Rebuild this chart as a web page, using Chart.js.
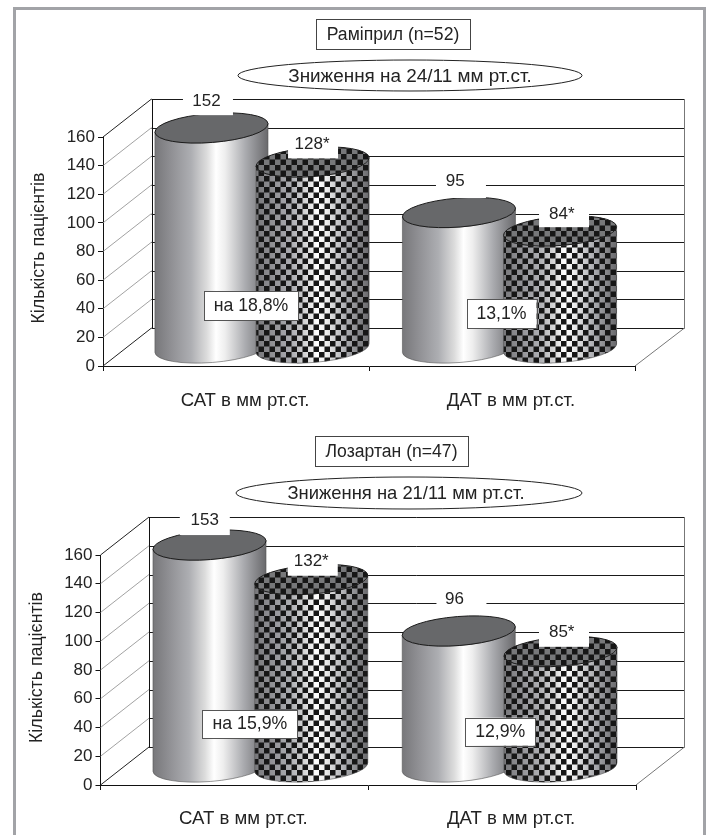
<!DOCTYPE html>
<html lang="uk">
<head>
<meta charset="utf-8">
<title>Раміприл / Лозартан</title>
<script src="https://cdn.jsdelivr.net/npm/chart.js@4"></script>
<style>
    html, body { margin: 0; padding: 0; background: #fff; overflow: hidden; }
    #page { position: relative; width: 708px; height: 835px; }
    #frame {
        position: absolute; left: 13px; top: 7px; width: 687px; height: 840px;
        border: 3px solid #a2a3a7; box-sizing: content-box;
    }
    canvas { position: absolute; left: 0; }
    #ramiprilChart { top: 0; }
    #losartanChart { top: 418px; }
</style>
</head>
<body>
<div id="page">
    <div id="frame"></div>
    <canvas id="ramiprilChart" width="708" height="418"></canvas>
    <canvas id="losartanChart" width="708" height="417"></canvas>
</div>
<script>
const categories = ['САТ в мм рт.ст.', 'ДАТ в мм рт.ст.'];
const yAxisTitle = 'Кількість пацієнтів';

const ramiprilBaseline = [152, 95];
const ramiprilTreated = [128, 84];
const ramiprilChange = ['на 18,8%', '13,1%'];

const losartanBaseline = [153, 96];
const losartanTreated = [132, 85];
const losartanChange = ['на 15,9%', '12,9%'];

const FONT = '"Liberation Sans", Arial, sans-serif';
const INK = '#232323';

// Оформлення циліндрів і підписів
const DEPTH_X = 48.5;
const DEPTH_Y = 38;
const BASE_LIFT = 18;     // центр основи лежить посередині глибини підлоги
const LABEL_LIFT = 20;
const RADIUS_Y = 14.5;
const TILT = -4.5 * Math.PI / 180;
const GROUP_SHIFT = [26, 7.5];

function checkerPattern(ctx) {
    const cell = 5.5;
    const tile = document.createElement('canvas');
    tile.width = tile.height = 11;
    const t = tile.getContext('2d');
    t.fillStyle = '#161616';
    t.fillRect(0, 0, cell, cell);
    t.fillRect(cell, cell, cell, cell);
    return ctx.createPattern(tile, 'repeat');
}

function bodyGradient(ctx, left, right) {
    const g = ctx.createLinearGradient(left, 0, right, 0);
    g.addColorStop(0, '#77777a');
    g.addColorStop(0.14, '#8f8f93');
    g.addColorStop(0.32, '#adaeb2');
    g.addColorStop(0.46, '#dcdcdc');
    g.addColorStop(0.54, '#ffffff');
    g.addColorStop(0.62, '#eeeeee');
    g.addColorStop(0.8, '#aaabaf');
    g.addColorStop(1, '#68686b');
    return g;
}

function drawCylinder(ctx, cx, topY, baseY, rx, checkered) {
    const ex = rx * Math.cos(TILT);
    const ey = rx * Math.sin(TILT);
    const pattern = checkered ? checkerPattern(ctx) : null;

    ctx.beginPath();
    ctx.moveTo(cx - ex, topY - ey);
    ctx.lineTo(cx - ex, baseY - ey);
    ctx.ellipse(cx, baseY, rx, RADIUS_Y, TILT, Math.PI, 0, true);
    ctx.lineTo(cx + ex, topY + ey);
    ctx.ellipse(cx, topY, rx, RADIUS_Y, TILT, 0, Math.PI, false);
    ctx.closePath();
    ctx.fillStyle = bodyGradient(ctx, cx - rx, cx + rx);
    ctx.fill();
    if (pattern) {
        ctx.fillStyle = pattern;
        ctx.fill();
    }
    ctx.strokeStyle = '#555';
    ctx.lineWidth = 0.6;
    ctx.stroke();

    ctx.beginPath();
    ctx.ellipse(cx, topY, rx, RADIUS_Y, TILT, 0, Math.PI * 2);
    ctx.fillStyle = checkered ? '#77787a' : '#67686a';
    ctx.fill();
    if (pattern) {
        ctx.fillStyle = pattern;
        ctx.fill();
    }
    ctx.strokeStyle = '#1c1c1c';
    ctx.lineWidth = 1;
    ctx.stroke();
}

function hLine(ctx, x1, x2, y, color) {
    ctx.strokeStyle = color;
    ctx.lineWidth = 1;
    ctx.beginPath();
    ctx.moveTo(x1, Math.round(y) + 0.5);
    ctx.lineTo(x2, Math.round(y) + 0.5);
    ctx.stroke();
}

// Задня стінка, бічна стінка та підлога
const wallsPlugin = {
    id: 'walls',
    beforeDatasetsDraw(chart) {
        const ctx = chart.ctx;
        const { left, bottom, right } = chart.chartArea;
        const yScale = chart.scales.y;
        const backLeft = left + DEPTH_X;
        const backRight = 684.5;
        ctx.save();
        yScale.ticks.forEach(tick => {
            const y = yScale.getPixelForValue(tick.value);
            const edge = tick.value === 0 || tick.value === 160;
            ctx.strokeStyle = edge ? '#222' : '#8a8a8a';
            ctx.lineWidth = edge ? 1 : 0.8;
            ctx.beginPath();
            ctx.moveTo(left, y);
            ctx.lineTo(backLeft, y - DEPTH_Y);
            ctx.stroke();
            hLine(ctx, backLeft, backRight, y - DEPTH_Y, '#1a1a1a');
        });
        ctx.strokeStyle = '#111';
        ctx.lineWidth = 1;
        ctx.beginPath();
        ctx.moveTo(Math.round(backLeft) + 0.5, yScale.top - DEPTH_Y);
        ctx.lineTo(Math.round(backLeft) + 0.5, bottom - DEPTH_Y);
        ctx.stroke();
        ctx.strokeStyle = '#777';
        ctx.beginPath();
        ctx.moveTo(backRight, yScale.top - DEPTH_Y);
        ctx.lineTo(backRight, bottom - DEPTH_Y);
        ctx.lineTo(right, bottom);
        ctx.stroke();
        ctx.restore();
    }
};

// Циліндри будуються за елементами стовпців, а поверх них лягають підписи
const cylindersPlugin = {
    id: 'cylinders',
    afterDatasetsDraw(chart, args, opts) {
        const ctx = chart.ctx;
        const yScale = chart.scales.y;
        const y0 = yScale.getPixelForValue(0);
        const marks = [];
        ctx.save();
        chart.data.datasets.forEach((ds, d) => {
            chart.getDatasetMeta(d).data.forEach((bar, c) => marks.push({ d, c, bar, value: ds.data[c] }));
        });
        marks.sort((a, b) => a.c - b.c || a.d - b.d);
        marks.forEach(m => {
            m.cx = m.bar.x + GROUP_SHIFT[m.c];
            m.labelY = m.bar.y - LABEL_LIFT;
            drawCylinder(ctx, m.cx, m.bar.y - opts.topLift[m.d][m.c], y0 - BASE_LIFT, 56.7, m.d === 1);
        });

        ctx.textAlign = 'center';
        ctx.textBaseline = 'middle';
        ctx.font = `17px ${FONT}`;
        marks.forEach(m => {
            const [dx, dy, boxDx, boxBottom] = opts.valueOffsets[m.d][m.c];
            const text = m.value + (m.d === 1 ? '*' : '');
            ctx.fillStyle = '#fff';
            ctx.fillRect(m.cx + boxDx - 25, m.labelY + boxBottom - 25, 50, 25);
            ctx.fillStyle = INK;
            ctx.fillText(text, m.cx + dx, m.labelY + dy);
        });

        // Рамки зі зниженням у відсотках
        ctx.font = `17.7px ${FONT}`;
        opts.change.forEach((text, c) => {
            const box = opts.changeBoxes[c];
            const groupX = (marks.find(m => m.c === c && m.d === 0).cx + marks.find(m => m.c === c && m.d === 1).cx) / 2;
            const x = groupX + box.dx - box.w / 2;
            const y = y0 - box.up;
            ctx.fillStyle = '#fff';
            ctx.fillRect(x, y, box.w, box.h);
            ctx.strokeStyle = '#555';
            ctx.lineWidth = 1;
            ctx.strokeRect(Math.round(x) + 0.5, Math.round(y) + 0.5, box.w, box.h);
            ctx.fillStyle = INK;
            ctx.fillText(text, x + box.w / 2, y + box.h / 2 + 0.5);
        });

        // Назва препарату та овал із зниженням тиску
        const head = opts.heading;
        ctx.font = `17.6px ${FONT}`;
        ctx.fillStyle = '#fff';
        ctx.fillRect(head.x, head.y, head.w, head.h);
        ctx.strokeStyle = '#444';
        ctx.strokeRect(head.x + 0.5, head.y + 0.5, head.w, head.h);
        ctx.fillStyle = INK;
        ctx.fillText(opts.title, head.x + head.w / 2, head.y + head.h / 2 + 1);

        const oval = opts.oval;
        ctx.beginPath();
        ctx.ellipse(oval.x, oval.y, oval.rx, oval.ry, 0, 0, Math.PI * 2);
        ctx.fillStyle = '#fff';
        ctx.fill();
        ctx.strokeStyle = '#222';
        ctx.stroke();
        ctx.font = `${oval.font}px ${FONT}`;
        ctx.fillStyle = INK;
        ctx.fillText(opts.subtitle, oval.textX, oval.y + 1);

        // Підпис осі Y
        ctx.save();
        ctx.translate(opts.axisTitle.x, opts.axisTitle.y);
        ctx.rotate(-Math.PI / 2);
        ctx.font = `17.8px ${FONT}`;
        ctx.fillText(yAxisTitle, 0, 0);
        ctx.restore();

        ctx.restore();
    }
};

function buildChart(canvasId, baseline, treated, plot, panel) {
    return new Chart(document.getElementById(canvasId), {
        type: 'bar',
        data: {
            labels: categories,
            datasets: [
                { label: 'До лікування', data: baseline, backgroundColor: 'transparent' },
                { label: 'Після лікування', data: treated, backgroundColor: 'transparent' }
            ]
        },
        options: {
            responsive: false,
            animation: false,
            categoryPercentage: 0.76,
            barPercentage: 1,
            layout: {
                padding: { top: plot.top, right: 708 - plot.right, left: 0, bottom: 0 }
            },
            plugins: {
                legend: { display: false },
                tooltip: { enabled: false },
                cylinders: panel
            },
            scales: {
                x: {
                    afterFit(scale) { scale.height = plot.axisHeight; },
                    border: { color: '#111' },
                    grid: { drawOnChartArea: false, tickLength: 5, color: '#111' },
                    ticks: {
                        color: INK,
                        font: { family: FONT, size: 18.6 },
                        padding: plot.labelPad,
                        labelOffset: 9,
                        maxRotation: 0
                    }
                },
                y: {
                    min: 0,
                    max: 160,
                    afterFit(scale) { scale.width = plot.left; },
                    border: { color: '#111' },
                    grid: { drawOnChartArea: false, tickLength: 5, color: '#111' },
                    ticks: {
                        stepSize: 20,
                        color: INK,
                        font: { family: FONT, size: 17 },
                        padding: 3
                    }
                }
            }
        },
        plugins: [wallsPlugin, cylindersPlugin]
    });
}

buildChart('ramiprilChart', ramiprilBaseline, ramiprilTreated,
    { left: 103, right: 635, top: 137, axisHeight: 52, labelPad: 19 },
    {
        title: 'Раміприл (n=52)',
        subtitle: 'Зниження на 24/11 мм рт.ст.',
        change: ramiprilChange,
        heading: { x: 316, y: 19, w: 154, h: 30 },
        oval: { x: 410, y: 75.5, rx: 172, ry: 15.5, textX: 410, font: 18.9 },
        axisTitle: { x: 39, y: 248 },
        topLift: [[20.5, 17.5], [20.8, 14.8]],
        valueOffsets: [
            [[-5, -27, -3.5, -13.3], [-3.8, -29, 2, -12]],
            [[-0.5, -18.4, 0.5, -4.4], [1.7, -11.6, 4, 1.4]]
        ],
        changeBoxes: [
            { dx: -11, up: 75, w: 94, h: 29 },
            { dx: -8, up: 67, w: 70, h: 29 }
        ]
    });

buildChart('losartanChart', losartanBaseline, losartanTreated,
    { left: 100.5, right: 636, top: 137, axisHeight: 50, labelPad: 18 },
    {
        title: 'Лозартан (n=47)',
        subtitle: 'Зниження на 21/11 мм рт.ст.',
        change: losartanChange,
        heading: { x: 315, y: 18, w: 153, h: 30 },
        oval: { x: 409, y: 75, rx: 173, ry: 16, textX: 406, font: 18.4 },
        axisTitle: { x: 37, y: 249.5 },
        topLift: [[20, 16], [15.7, 11.2]],
        valueOffsets: [
            [[-4.7, -24.3, -4.7, -10], [-4.3, -28, 2.7, -15]],
            [[0, -13.5, 1.5, 0.5], [1.2, -11, 3.5, 4]]
        ],
        changeBoxes: [
            { dx: -10.5, up: 75, w: 95, h: 28 },
            { dx: -9.4, up: 67.3, w: 70, h: 28 }
        ]
    });
</script>
</body>
</html>
